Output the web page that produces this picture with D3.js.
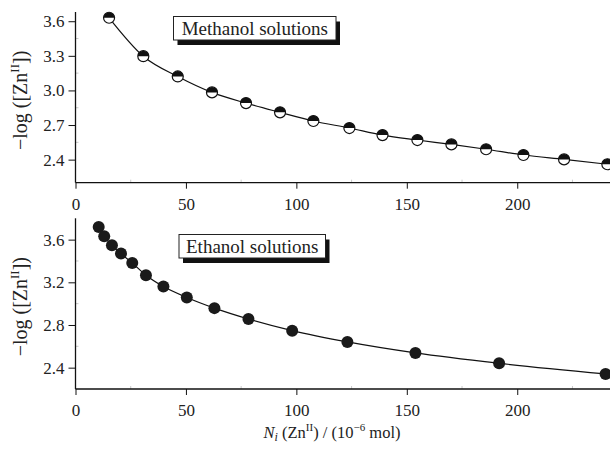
<!DOCTYPE html>
<html><head><meta charset="utf-8">
<script src="https://cdn.jsdelivr.net/npm/d3@7"></script>
<style>
body{margin:0;background:#fff;}
svg{display:block;font-family:"Liberation Serif","Times New Roman",serif;}
</style></head>
<body>
<svg id="c" width="610" height="455"></svg>
<script>
// Methanol solutions
const methX = [15.2, 30.7, 46.3, 61.8, 77.2, 92.6, 107.7, 124.0, 139.0, 154.8, 170.2, 185.9, 202.8, 221.2, 240.8];
const methY = [3.63, 3.297, 3.121, 2.983, 2.890, 2.810, 2.735, 2.674, 2.613, 2.570, 2.532, 2.490, 2.440, 2.402, 2.360];
// Ethanol solutions
const ethX = [10.5, 13.0, 16.5, 20.6, 25.7, 31.9, 39.8, 50.4, 62.9, 78.3, 98.1, 123.1, 153.9, 191.8, 240.0];
const ethY = [3.718, 3.631, 3.547, 3.469, 3.381, 3.266, 3.160, 3.058, 2.958, 2.856, 2.747, 2.641, 2.538, 2.441, 2.341];
const xTicks = [0, 50, 100, 150, 200];
const yTicksTop = [2.4, 2.7, 3.0, 3.3, 3.6];
const yTicksBot = [2.4, 2.8, 3.2, 3.6];

const FONT = "Liberation Serif, Times New Roman, serif";
const svg = d3.select("#c");
const x = d3.scaleLinear().domain([0, 242]).range([75.5, 610]);

function panel(opt){
  const y = d3.scaleLinear().domain(opt.ydom).range([opt.bottom, opt.top]);
  const g = svg.append("g");
  g.selectAll(".mx").data([25,75,125,175,225]).join("line")
    .attr("x1", d=>x(d)).attr("x2", d=>x(d))
    .attr("y1", opt.bottom).attr("y2", opt.bottom-3)
    .attr("stroke","#bbb").attr("stroke-width",0.8);
  g.selectAll(".my").data(opt.minorY).join("line")
    .attr("x1", x(0)).attr("x2", x(0)+3)
    .attr("y1", d=>y(d)).attr("y2", d=>y(d))
    .attr("stroke","#bbb").attr("stroke-width",0.8);
  const xa = g.append("g").attr("transform",`translate(0,${opt.bottom})`)
    .call(d3.axisBottom(x).tickValues(xTicks).tickSize(6).tickPadding(9).tickFormat(d3.format("d")));
  const ya = g.append("g").attr("transform",`translate(${x(0)},0)`)
    .call(d3.axisLeft(y).tickValues(opt.yticks).tickSize(7).tickPadding(4).tickFormat(d3.format(".1f")));
  [xa, ya].forEach(a=>{
    a.attr("font-family", FONT);
    a.select(".domain").attr("stroke","#111").attr("stroke-width",1.3);
    a.selectAll(".tick line").attr("stroke","#111").attr("stroke-width",1);
    a.selectAll("text").attr("font-family",FONT).attr("font-size",17).attr("fill","#222");
  });
  xa.select(".domain").attr("d",`M${x(0)},0H610`);
  ya.select(".domain").attr("d",`M0,${opt.bottom}V${opt.top}`);
  const lab = g.append("text").attr("transform",`translate(27,${(opt.top+opt.bottom)/2+3}) rotate(-90)`)
    .attr("text-anchor","middle").attr("font-size",20).attr("fill","#222");
  lab.append("tspan").text("\u2212log ([Zn");
  lab.append("tspan").attr("font-size",13).attr("dy",-8).text("II");
  lab.append("tspan").attr("dy",8).text("])");
  const pts = opt.xs.map((v,i)=>[v, opt.ys[i]]);
  g.append("path").datum(pts)
    .attr("d", d3.line().x(d=>x(d[0])).y(d=>y(d[1])).curve(d3.curveMonotoneX))
    .attr("fill","none").attr("stroke","#111").attr("stroke-width",1.2);
  const r = opt.r;
  const mk = g.selectAll(".pt").data(pts).join("g")
    .attr("transform", d=>`translate(${x(d[0])},${y(d[1])})`);
  if(opt.half){
    mk.append("circle").attr("r", r).attr("fill","#fff").attr("stroke","#111").attr("stroke-width",1.2);
    mk.append("path").attr("d", `M${-r},0A${r},${r} 0 0 1 ${r},0Z`).attr("fill","#111");
  } else {
    mk.append("circle").attr("r", r).attr("fill","#1a1a1a");
  }
  const b = opt.box;
  g.append("rect").attr("x",b.x+4).attr("y",b.y+5).attr("width",b.w).attr("height",b.h).attr("fill","#111");
  g.append("rect").attr("x",b.x).attr("y",b.y).attr("width",b.w).attr("height",b.h)
    .attr("fill","#fff").attr("stroke","#222").attr("stroke-width",1);
  g.append("text").attr("x",b.x+b.w/2).attr("y",b.y+b.h/2+6.5).attr("text-anchor","middle")
    .attr("font-size",19).attr("fill","#222").text(opt.label);
}

panel({ydom:[2.2,3.68], top:12, bottom:182.7, yticks:yTicksTop, minorY:[2.55,2.85,3.15,3.45],
  xs:methX, ys:methY, half:true, r:5.5,
  box:{x:173.5,y:16.5,w:162.5,h:23.5}, label:"Methanol solutions"});
panel({ydom:[2.2,3.8], top:218.3, bottom:389, yticks:yTicksBot, minorY:[2.6,3.0,3.4],
  xs:ethX, ys:ethY, half:false, r:6,
  box:{x:179,y:234.5,w:146.5,h:23.5}, label:"Ethanol solutions"});

const xt = svg.append("text").attr("x",332).attr("y",438).attr("text-anchor","middle")
  .attr("font-size",16.5).attr("fill","#222");
xt.append("tspan").attr("font-style","italic").text("N");
xt.append("tspan").attr("font-style","italic").attr("font-size",12).attr("dy",3).text("i");
xt.append("tspan").attr("dy",-3).text(" (Zn");
xt.append("tspan").attr("font-size",11).attr("dy",-7).text("II");
xt.append("tspan").attr("dy",7).text(") / (10");
xt.append("tspan").attr("font-size",11).attr("dy",-7).text("\u22126");
xt.append("tspan").attr("dy",7).text(" mol)");
</script>
</body></html>
